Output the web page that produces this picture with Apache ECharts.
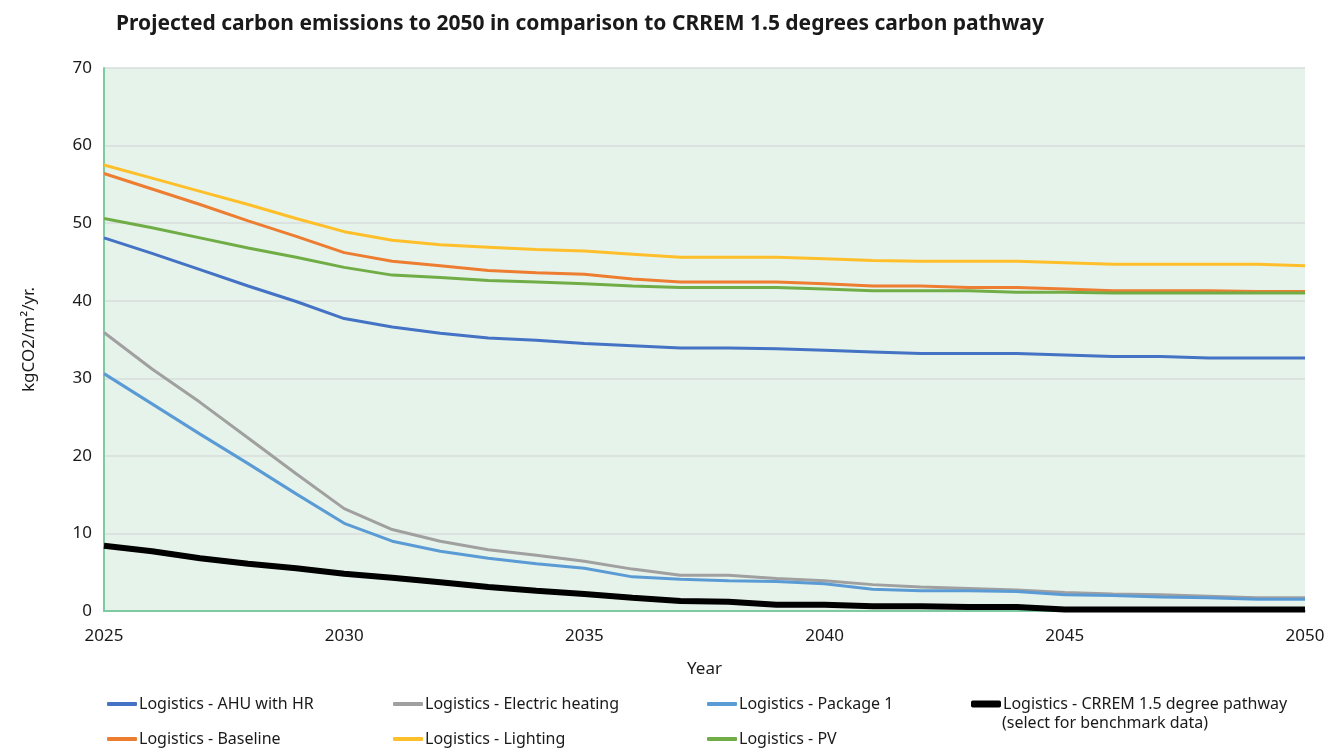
<!DOCTYPE html>
<html>
<head>
<meta charset="utf-8">
<script src="https://cdn.jsdelivr.net/npm/echarts@6/dist/echarts.min.js"></script>
<style>
  html, body { margin: 0; padding: 0; background: #fff; }
  #chart { width: 1324px; height: 749px; }
</style>
</head>
<body>
<div id="chart"></div>
<script>
  // years on the x axis
  var years = [2025, 2026, 2027, 2028, 2029, 2030, 2031, 2032, 2033, 2034, 2035, 2036, 2037,
    2038, 2039, 2040, 2041, 2042, 2043, 2044, 2045, 2046, 2047, 2048, 2049, 2050];

  // kgCO2/m2/yr.
  var ahuHR = [48.1, 46.1, 44.0, 41.9, 39.9, 37.7, 36.6, 35.8, 35.2, 34.9, 34.5, 34.2, 33.9,
    33.9, 33.8, 33.6, 33.4, 33.2, 33.2, 33.2, 33.0, 32.8, 32.8, 32.6, 32.6, 32.6];
  var electricHeating = [35.9, 31.2, 26.9, 22.3, 17.7, 13.2, 10.5, 9.0, 7.9, 7.2, 6.4, 5.4, 4.6,
    4.6, 4.2, 3.9, 3.4, 3.1, 2.9, 2.7, 2.4, 2.2, 2.1, 1.9, 1.7, 1.7];
  var package1 = [30.6, 26.7, 22.8, 19.0, 15.1, 11.3, 9.0, 7.7, 6.8, 6.1, 5.5, 4.4, 4.1,
    3.9, 3.8, 3.5, 2.8, 2.6, 2.6, 2.5, 2.1, 2.0, 1.8, 1.7, 1.5, 1.5];
  var crrem = [8.4, 7.7, 6.8, 6.1, 5.5, 4.8, 4.3, 3.7, 3.1, 2.6, 2.2, 1.7, 1.3,
    1.2, 0.8, 0.8, 0.6, 0.6, 0.5, 0.5, 0.2, 0.2, 0.2, 0.2, 0.2, 0.2];
  var baseline = [56.4, 54.4, 52.4, 50.3, 48.3, 46.2, 45.1, 44.5, 43.9, 43.6, 43.4, 42.8, 42.4,
    42.4, 42.4, 42.2, 41.9, 41.9, 41.7, 41.7, 41.5, 41.3, 41.3, 41.3, 41.2, 41.2];
  var lighting = [57.5, 55.8, 54.1, 52.4, 50.6, 48.9, 47.8, 47.2, 46.9, 46.6, 46.4, 46.0, 45.6,
    45.6, 45.6, 45.4, 45.2, 45.1, 45.1, 45.1, 44.9, 44.7, 44.7, 44.7, 44.7, 44.5];
  var pv = [50.6, 49.4, 48.1, 46.8, 45.6, 44.3, 43.3, 43.0, 42.6, 42.4, 42.2, 41.9, 41.7,
    41.7, 41.7, 41.5, 41.3, 41.3, 41.3, 41.1, 41.1, 41.0, 41.0, 41.0, 41.0, 41.0];

  var chart = echarts.init(document.getElementById('chart'));
  var font = 'Noto Sans';
  var textColor = '#1a1a1a';

  function pairs(vals) {
    return years.map(function (y, i) { return [y, vals[i]]; });
  }
  function line(name, vals, color, width) {
    return {
      name: name,
      type: 'line',
      data: pairs(vals),
      symbol: 'none',
      lineStyle: { color: color, width: width },
      itemStyle: { color: color }
    };
  }
  function legend(name, left, top, h) {
    return {
      data: [name],
      left: left,
      top: top,
      itemWidth: 30,
      itemHeight: h || 4,
      itemGap: 0,
      icon: 'roundRect',
      textStyle: { fontFamily: font, fontSize: 16, color: textColor, padding: [0, 0, 0, -3] }
    };
  }

  var crremName = 'Logistics - CRREM 1.5 degree pathway';

  chart.setOption({
    animation: false,
    title: {
      text: 'Projected carbon emissions to 2050 in comparison to CRREM 1.5 degrees carbon pathway',
      left: 111,
      top: 9,
      textStyle: { fontFamily: font, fontSize: 21, fontWeight: 'bold', color: textColor }
    },
    legend: [
      legend('Logistics - AHU with HR', 102, 691),
      legend('Logistics - Electric heating', 388, 691),
      legend('Logistics - Package 1', 702, 691),
      legend(crremName, 966, 691, 7),
      legend('Logistics - Baseline', 102, 726),
      legend('Logistics - Lighting', 388, 726),
      legend('Logistics - PV', 702, 726)
    ],
    graphic: [{
      type: 'text',
      left: 1002,
      top: 715,
      style: { text: '(select for benchmark data)', fontFamily: font, fontSize: 16, fill: textColor }
    }],
    grid: {
      left: 104,
      right: 19,
      top: 68,
      bottom: 138,
      outerBoundsMode: 'none',
      show: true,
      backgroundColor: '#e6f3ea',
      borderWidth: 0
    },
    xAxis: {
      type: 'value',
      min: 2025,
      max: 2050,
      interval: 5,
      name: 'Year',
      nameLocation: 'middle',
      nameGap: 50,
      nameTextStyle: { fontFamily: font, fontSize: 17, color: textColor },
      axisLine: { show: true, lineStyle: { color: '#7ecba1', width: 2 } },
      axisTick: { show: false },
      splitLine: { show: false },
      axisLabel: { fontFamily: font, fontSize: 17, color: textColor, margin: 17, formatter: function (v) { return String(v); } }
    },
    yAxis: {
      type: 'value',
      min: 0,
      max: 70,
      interval: 10,
      name: 'kgCO2/m\u00b2/yr.',
      nameLocation: 'middle',
      nameGap: 66,
      nameTextStyle: { fontFamily: font, fontSize: 17, color: textColor },
      axisLine: { show: true, lineStyle: { color: '#7ecba1', width: 2 } },
      axisTick: { show: false },
      splitLine: { lineStyle: { color: '#d9dcdc', width: 1.5 } },
      axisLabel: { fontFamily: font, fontSize: 17, color: textColor, margin: 12 }
    },
    series: [
      line('Logistics - AHU with HR', ahuHR, '#4472c4', 3),
      line('Logistics - Electric heating', electricHeating, '#a0a0a0', 3),
      line('Logistics - Package 1', package1, '#5b9bd5', 3),
      line('Logistics - Baseline', baseline, '#ed7d31', 3),
      line('Logistics - Lighting', lighting, '#ffbf2a', 3),
      line('Logistics - PV', pv, '#70ad47', 3),
      line(crremName, crrem, '#000000', 6)
    ]
  });
</script>
</body>
</html>
